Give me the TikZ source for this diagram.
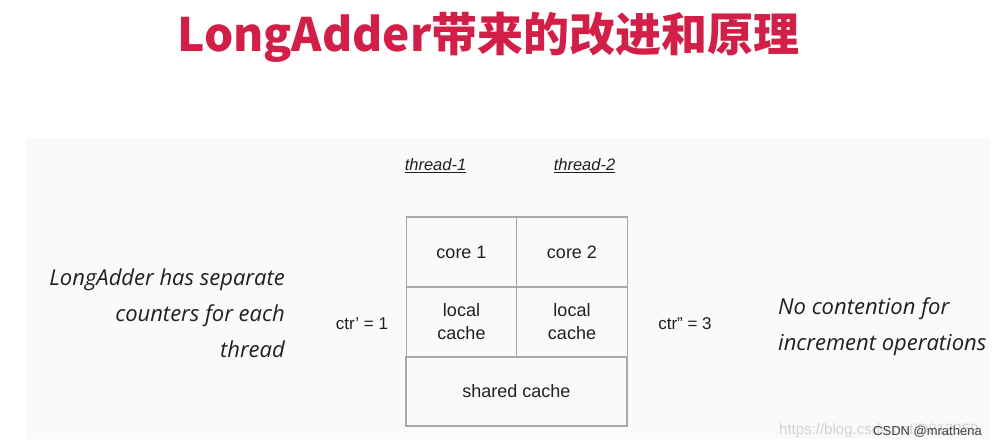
\documentclass[tikz,border=0pt]{standalone}
\usepackage{fontspec}
\setmainfont{Liberation Sans}
\newfontfamily\cjk{Noto Sans CJK SC}
\newfontfamily\hand{Open Sans}
\definecolor{titlered}{HTML}{D21F47}
\definecolor{panel}{HTML}{FAFAFC}
\definecolor{gridgray}{HTML}{A8A8A8}
\definecolor{txt}{HTML}{202020}
\begin{document}
\begin{tikzpicture}[x=1pt,y=-1pt,
  cell/.style={draw=gridgray,line width=1.3pt,inner sep=0pt,outer sep=0pt,text=txt,
    font=\fontsize{18}{23}\selectfont,align=center},
  thr/.style={text=txt,font=\fontsize{16.5}{19}\selectfont\itshape,inner sep=0pt},
  ctr/.style={text=txt,font=\fontsize{17}{20}\selectfont,inner sep=0pt},
  handtxt/.style={text=txt,font=\hand\itshape\fontsize{22}{36}\selectfont,inner sep=0pt}]
\useasboundingbox (0,0) rectangle (998,447);
\fill[white] (0,0) rectangle (998,447);
\fill[panel] (26,138) rectangle (990,439);
\node[text=titlered,font=\cjk\bfseries\fontsize{46}{50}\selectfont,inner sep=0pt,anchor=west] (title) at (177,37) {LongAdder带来的改进和原理};
\node[thr] (t1) at (435.5,166) {\underline{thread-1}};
\node[thr] (t2) at (584.5,166) {\underline{thread-2}};
\node[cell,minimum width=110pt,minimum height=70pt] (c1) at (461.5,252) {core 1};
\node[cell,minimum width=111pt,minimum height=70pt] (c2) at (572,252) {core 2};
\node[cell,minimum width=110pt,minimum height=70pt] (l1) at (461.5,322) {local\\cache};
\node[cell,minimum width=111pt,minimum height=70pt] (l2) at (572,322) {local\\cache};
\node[cell,minimum width=221pt,minimum height=69pt] (sh) at (516.5,391.5) {shared cache};
\node[ctr] (ctr1) at (362,324) {ctr’ = 1};
\node[ctr] (ctr2) at (685,324) {ctr” = 3};
\node[handtxt,align=right,anchor=east] (left) at (285,313) {LongAdder has separate\\counters for each\\thread};
\node[handtxt,align=left,anchor=west] (right) at (778,327) {No contention for\\increment operations};
\node[text=gray!35,font=\fontsize{15}{17}\selectfont,inner sep=0pt,anchor=west] (url) at (779,431) {https://blog.csdn.net/D812359};
\node[text=txt!85,font=\fontsize{13}{15}\selectfont,inner sep=0pt,anchor=west] (csdn) at (873,432) {CSDN @mrathena};
\end{tikzpicture}
\end{document}
